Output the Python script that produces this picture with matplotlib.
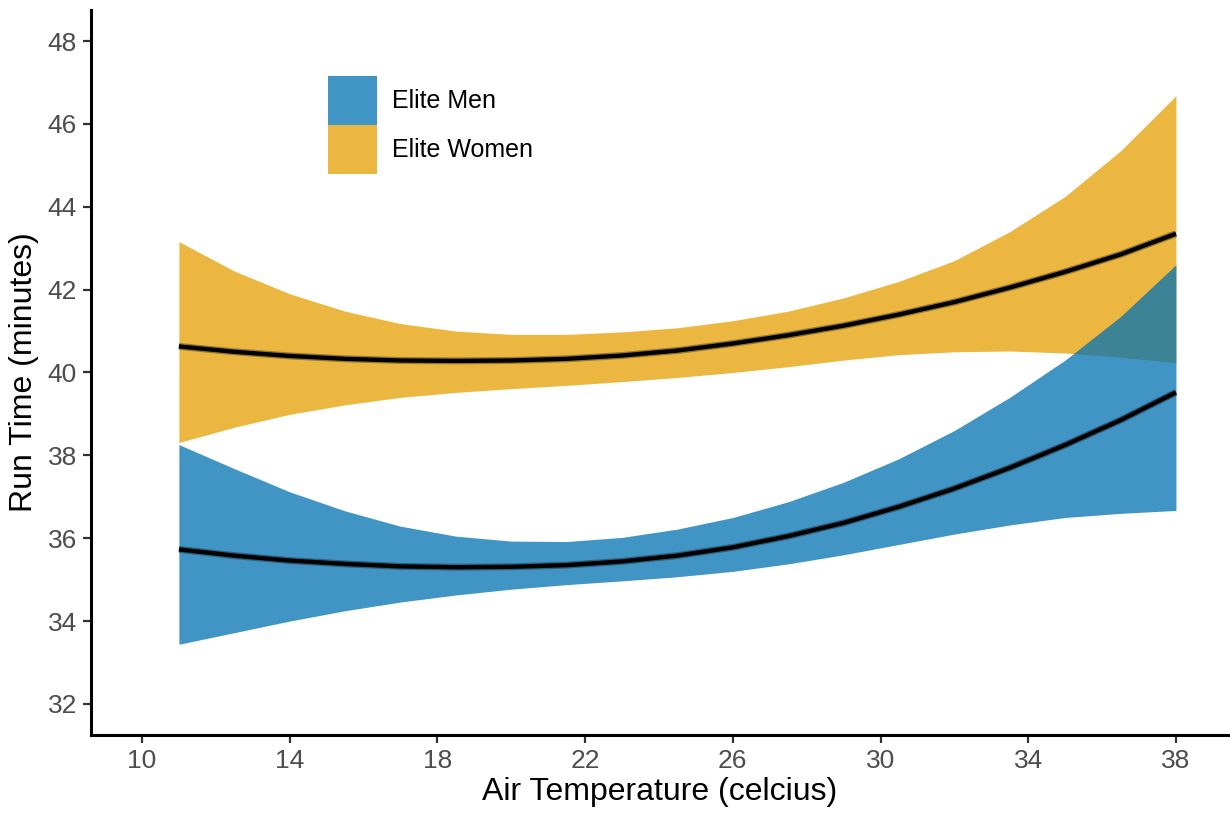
import matplotlib.pyplot as plt
from matplotlib.patches import Patch

plt.rcParams['font.family'] = ['Liberation Sans', 'DejaVu Sans']

# air temperature (celcius)
temp = [11, 12.5, 14, 15.5, 17, 18.5, 20, 21.5, 23, 24.5, 26, 27.5, 29, 30.5, 32, 33.5, 35, 36.5, 38]

# elite women: fitted run time and confidence band
women_fit = [40.63, 40.50, 40.40, 40.33, 40.29, 40.28, 40.29, 40.33, 40.41, 40.53,
             40.70, 40.90, 41.13, 41.40, 41.70, 42.05, 42.43, 42.85, 43.35]
women_lo = [38.31, 38.68, 38.99, 39.22, 39.40, 39.52, 39.61, 39.69, 39.78, 39.88,
            40.00, 40.14, 40.30, 40.43, 40.50, 40.52, 40.47, 40.37, 40.24]
women_hi = [43.16, 42.45, 41.90, 41.48, 41.18, 41.00, 40.92, 40.92, 40.98, 41.08,
            41.25, 41.48, 41.80, 42.20, 42.70, 43.40, 44.25, 45.35, 46.68]

# elite men
men_fit = [35.73, 35.58, 35.46, 35.38, 35.32, 35.30, 35.31, 35.35, 35.44, 35.58,
           35.78, 36.05, 36.37, 36.76, 37.20, 37.70, 38.25, 38.85, 39.52]
men_lo = [33.44, 33.72, 34.00, 34.25, 34.46, 34.63, 34.77, 34.88, 34.97, 35.07,
          35.20, 35.38, 35.60, 35.85, 36.10, 36.32, 36.50, 36.60, 36.67]
men_hi = [38.26, 37.68, 37.12, 36.66, 36.29, 36.05, 35.93, 35.92, 36.02, 36.22,
          36.50, 36.88, 37.35, 37.92, 38.60, 39.40, 40.30, 41.35, 42.60]

xticks = [10, 14, 18, 22, 26, 30, 34, 38]
yticks = [32, 34, 36, 38, 40, 42, 44, 46, 48]

blue = '#0072B2'
orange = '#E69F00'
W, H = 1230, 814

fig = plt.figure(figsize=(W / 100, H / 100), dpi=100)
ax = fig.add_axes([91 / W, 1 - 735 / H, (1228 - 91) / W, (735 - 10) / H])

ax.fill_between(temp, women_lo, women_hi, color=orange, alpha=0.75, lw=0)
ax.fill_between(temp, men_lo, men_hi, color=blue, alpha=0.75, lw=0)
for fit in [women_fit, men_fit]:
    ax.plot(temp, fit, color='black', lw=5, alpha=0.35, solid_capstyle='butt')
    ax.plot(temp, fit, color='black', lw=3.1, solid_capstyle='butt')

ax.set_xlim(8.62, 39.41)
ax.set_ylim(31.25, 48.75)
ax.set_xticks(xticks)
ax.set_yticks(yticks)
ax.tick_params(labelsize=19, labelcolor='#4D4D4D', color='#333333', length=6, width=1.6, pad=4)

for side in ['top', 'right']:
    ax.spines[side].set_visible(False)
for side in ['left', 'bottom']:
    ax.spines[side].set_linewidth(2.2)
    ax.spines[side].set_color('black')

ax.set_xlabel('Air Temperature (celcius)', fontsize=23, labelpad=3)
ax.set_ylabel('Run Time (minutes)', fontsize=23, labelpad=6)

handles = [Patch(facecolor=blue, alpha=0.75, lw=0, label='Elite Men'),
           Patch(facecolor=orange, alpha=0.75, lw=0, label='Elite Women')]
fig.legend(handles=handles, loc='upper left', bbox_to_anchor=(328 / W, 1 - 76 / H),
           frameon=False, fontsize=18, handlelength=1.96, handleheight=2.64,
           labelspacing=0, handletextpad=0.6, borderpad=0, borderaxespad=0)

fig.savefig('out.png', dpi=100)
